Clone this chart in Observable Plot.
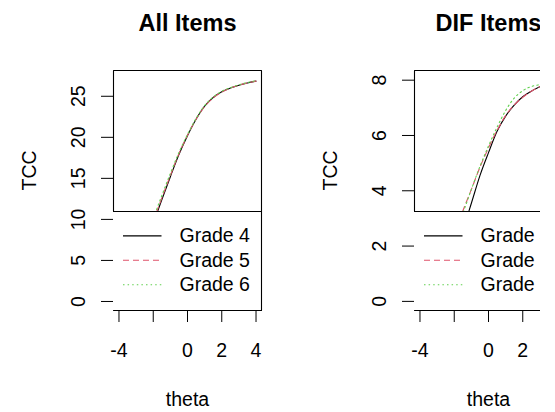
<!DOCTYPE html>
<html><head><meta charset="utf-8">
<script src="https://cdn.jsdelivr.net/npm/d3@7"></script>
<script src="https://cdn.jsdelivr.net/npm/@observablehq/plot@0.6"></script>
<style>
html,body{margin:0;padding:0;background:#fff;overflow:hidden;width:555px;height:412px;}
#wrap{position:relative;width:540px;height:412px;overflow:hidden;background:#fff;}
.panel{position:absolute;top:0;width:301px;height:412px;}
</style></head><body>
<div id="wrap"><div class="panel" id="p1" style="left:0px"></div><div class="panel" id="p2" style="left:301px"></div></div>
<script>
// ---- data ----
const theta = [-4, -3.5, -3, -2.5, -2, -1.5, -1, -0.5, 0, 0.5, 1, 1.5, 2, 2.5, 3, 3.5, 4];
const grades = ["Grade 4", "Grade 5", "Grade 6"];
const titles = ["All Items", "DIF Items"];
const xLabel = "theta";
const yLabel = "TCC";
const xTicks = [-4, -2, 0, 2, 4];
const xTickLabels = ["-4", "", "0", "2", "4"];
const yTicksAll = [0, 5, 10, 15, 20, 25];
const yTicksDif = [0, 2, 4, 6, 8];

const allG4 = [0.8, 2.3, 4.3, 6.8, 9.5, 12.4, 15.2, 17.9, 20.2, 22.2, 23.8, 24.85, 25.55, 26.0, 26.35, 26.62, 26.85];
const allG5 = [0.9, 2.4, 4.5, 7.0, 9.8, 12.6, 15.35, 18.0, 20.25, 22.2, 23.75, 24.8, 25.5, 26.0, 26.35, 26.62, 26.85];
const allG6 = [1.0, 2.6, 4.7, 7.3, 10.1, 12.9, 15.6, 18.15, 20.35, 22.3, 23.85, 24.9, 25.6, 26.05, 26.4, 26.67, 26.9];

const difG4 = [0.3, 0.5, 0.8, 1.3, 1.9, 2.6, 3.55, 4.55, 5.38, 6.15, 6.7, 7.1, 7.4, 7.6, 7.76, 7.84, 7.9];
const difG5 = [0.4, 0.7, 1.1, 1.7, 2.45, 3.27, 4.05, 4.85, 5.55, 6.18, 6.72, 7.1, 7.38, 7.6, 7.76, 7.84, 7.9];
const difG6 = [0.35, 0.6, 1.0, 1.6, 2.35, 3.18, 4.05, 4.88, 5.62, 6.3, 6.9, 7.35, 7.62, 7.77, 7.84, 7.89, 7.93];

// ---- layout / style ----
const W = 301, H = 412, ML = 113, MR = 40, MT = 70, MB = 102;
const FONT = '"Liberation Sans", Arial, sans-serif';
const FS = 19.5;
const lineStyles = [
  {stroke: "#000000"},
  {stroke: "#DF536B", strokeDasharray: "6,4"},
  {stroke: "#61D04F", strokeDasharray: "1.5,3.1"}
];

function panel(title, series, yDomain, yTicks) {
  const xDomain = [-4.32, 4.32];
  const xs = d3.scaleLinear(xDomain, [ML, W - MR]);
  const ys = d3.scaleLinear(yDomain, [H - MB, MT]);
  const [x0, x1] = xDomain, [y0, y1] = yDomain;
  const legTopPx = MT + 141;
  const legTop = ys.invert(legTopPx);
  const rows = grades.map((g, i) => ({g, i, y: ys.invert(legTopPx + 24.4 * (i + 1))}));
  const lx1 = xs.invert(ML + 9.5), lx2 = xs.invert(ML + 48), tx = xs.invert(ML + 66);

  const marks = [];
  series.forEach((s, i) => {
    const d = theta.map((t, k) => ({t, v: s[k]}));
    marks.push(Plot.line(d, {x: "t", y: "v", curve: "monotone-x", strokeWidth: 1.1, ...lineStyles[i]}));
  });
  // legend background (clipped to plot region, covers lower part)
  marks.push(Plot.rect([0], {x1: () => x0, x2: () => x1, y1: () => y0, y2: () => legTop, fill: "white"}));
  // plot box (left side hidden under legend)
  const framePts = [[x0, legTop], [x0, y1], [x1, y1], [x1, y0], [x0, y0]];
  marks.push(Plot.line(framePts, {x: d => d[0], y: d => d[1], stroke: "black", strokeWidth: 1.1}));
  marks.push(Plot.ruleY([legTop], {x1: () => x0, x2: () => x1, stroke: "black", strokeWidth: 1.1}));
  // legend entries
  rows.forEach(r => {
    marks.push(Plot.link([r], {x1: () => lx1, x2: () => lx2, y1: d => d.y, y2: d => d.y, strokeWidth: 1.1, ...lineStyles[r.i]}));
  });
  marks.push(Plot.text(rows, {x: () => tx, y: d => d.y, text: d => d.g, textAnchor: "start", lineAnchor: "middle", fontSize: FS, fill: "black"}));
  // y tick labels (rotated, as in R)
  marks.push(Plot.text(yTicks, {y: d => d, frameAnchor: "left", dx: -29, rotate: -90, text: d => String(d), lineAnchor: "bottom", textAnchor: "middle", fontSize: FS, fill: "black"}));
  // x tick labels
  marks.push(Plot.text(xTicks.map((v, k) => ({v, l: xTickLabels[k]})), {x: "v", frameAnchor: "bottom", dy: 46, text: "l", lineAnchor: "bottom", fontSize: FS, fill: "black"}));
  // axis titles
  marks.push(Plot.text([xLabel], {frameAnchor: "bottom", dy: 95, text: d => d, lineAnchor: "bottom", fontSize: FS, fill: "black"}));
  marks.push(Plot.text([yLabel], {frameAnchor: "left", dx: -77.5, rotate: -90, text: d => d, lineAnchor: "bottom", fontSize: FS, fill: "black"}));
  // main title
  marks.push(Plot.text([title], {frameAnchor: "top", dy: -40, text: d => d, lineAnchor: "bottom", fontSize: 23.5, fontWeight: "bold", fill: "black"}));

  return Plot.plot({
    width: W, height: H,
    marginTop: MT, marginBottom: MB, marginLeft: ML, marginRight: MR,
    style: {fontFamily: FONT, fontSize: FS + "px", background: "white", overflow: "visible", maxWidth: "none", color: "black"},
    x: {domain: xDomain, ticks: xTicks, tickSize: 12, tickFormat: () => "", label: null},
    y: {domain: yDomain, ticks: yTicks, tickSize: 12, tickFormat: () => "", label: null},
    marks
  });
}

document.getElementById("p1").appendChild(panel(titles[0], [allG4, allG5, allG6], [-1.10, 28.14], yTicksAll));
document.getElementById("p2").appendChild(panel(titles[1], [difG4, difG5, difG6], [-0.33, 8.35], yTicksDif));
</script>
</body></html>
